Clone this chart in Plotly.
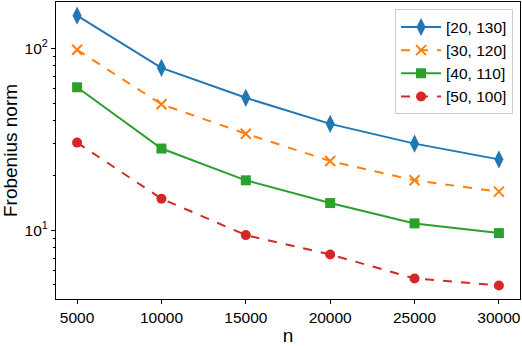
import plotly.graph_objects as go

n = [5000, 10000, 15000, 20000, 25000, 30000]
labels = ["[20, 130]", "[30, 120]", "[40, 110]", "[50, 100]"]
v_20_130 = [151, 78, 53.4, 38.4, 29.9, 24.5]
v_30_120 = [98, 49.2, 33.9, 24.0, 18.8, 16.3]
v_40_110 = [61, 28.1, 18.8, 14.1, 10.9, 9.64]
v_50_100 = [30.3, 14.9, 9.4, 7.36, 5.43, 4.97]
y_tickvals = [10, 100]
y_ticktext = ["10<sup>1</sup>", "10<sup>2</sup>"]
y_minor_tickvals = [2, 3, 4, 5, 6, 7, 8, 9, 20, 30, 40, 50, 60, 70, 80, 90, 200]

series = [v_20_130, v_30_120, v_40_110, v_50_100]
colors = ["#1f77b4", "#ff7f0e", "#2ca02c", "#d62728"]
dashes = ["solid", "dash", "solid", "dash"]
symbols = ["diamond-tall", "x-thin", "square", "circle"]
sizes = [13, 10, 10, 10]

FONT = "Liberation Sans, Arial, Helvetica, sans-serif"
YRANGE = [0.622, 2.254]

fig = go.Figure()
for lab, vals, c, d, s, sz in zip(labels, series, colors, dashes, symbols, sizes):
    marker = dict(symbol=s, size=sz, color=c)
    if s == "x-thin":
        marker["line"] = dict(color=c, width=2)
    fig.add_trace(go.Scatter(
        x=n, y=vals, name=lab, mode="lines+markers",
        line=dict(color=c, width=2, dash=d),
        marker=marker,
    ))

fig.update_layout(
    width=522, height=346,
    margin=dict(l=56, r=1, t=1, b=43),
    paper_bgcolor="white", plot_bgcolor="white",
    font=dict(family=FONT, size=15.5, color="black"),
    showlegend=True,
    legend=dict(
        x=0.985, y=0.975, xanchor="right", yanchor="top",
        bgcolor="rgba(255,255,255,0.8)", bordercolor="#cccccc", borderwidth=1,
        font=dict(size=15.5), tracegroupgap=0, itemwidth=40,
    ),
    xaxis=dict(
        title=dict(text="n", standoff=6),
        range=[3750, 31250],
        tickvals=n, ticktext=[str(v) for v in n],
        ticks="outside", ticklen=4, tickwidth=1, tickcolor="black",
        showline=True, linecolor="black", linewidth=1, mirror=True,
        showgrid=False, zeroline=False,
    ),
    yaxis=dict(
        title=dict(text="Frobenius norm", standoff=6),
        type="log", range=YRANGE,
        tickvals=y_tickvals, ticktext=y_ticktext,
        ticks="outside", ticklen=4, tickwidth=1, tickcolor="black",
        showline=True, linecolor="black", linewidth=1, mirror=True,
        showgrid=False, zeroline=False,
    ),
    yaxis2=dict(
        type="log", range=YRANGE, overlaying="y", side="left",
        tickvals=y_minor_tickvals, showticklabels=False,
        ticks="outside", ticklen=2.5, tickwidth=1, tickcolor="black",
        showline=False, showgrid=False, zeroline=False,
    ),
)
# invisible trace to activate the minor-tick axis
fig.add_trace(go.Scatter(x=[n[0]], y=[v_20_130[0]], yaxis="y2", mode="markers",
                         marker=dict(opacity=0), showlegend=False, hoverinfo="skip"))

fig.write_html(
    "out.html",
    config={"displayModeBar": False},
    post_script="document.body.style.margin='0';document.body.style.overflow='hidden';",
)
